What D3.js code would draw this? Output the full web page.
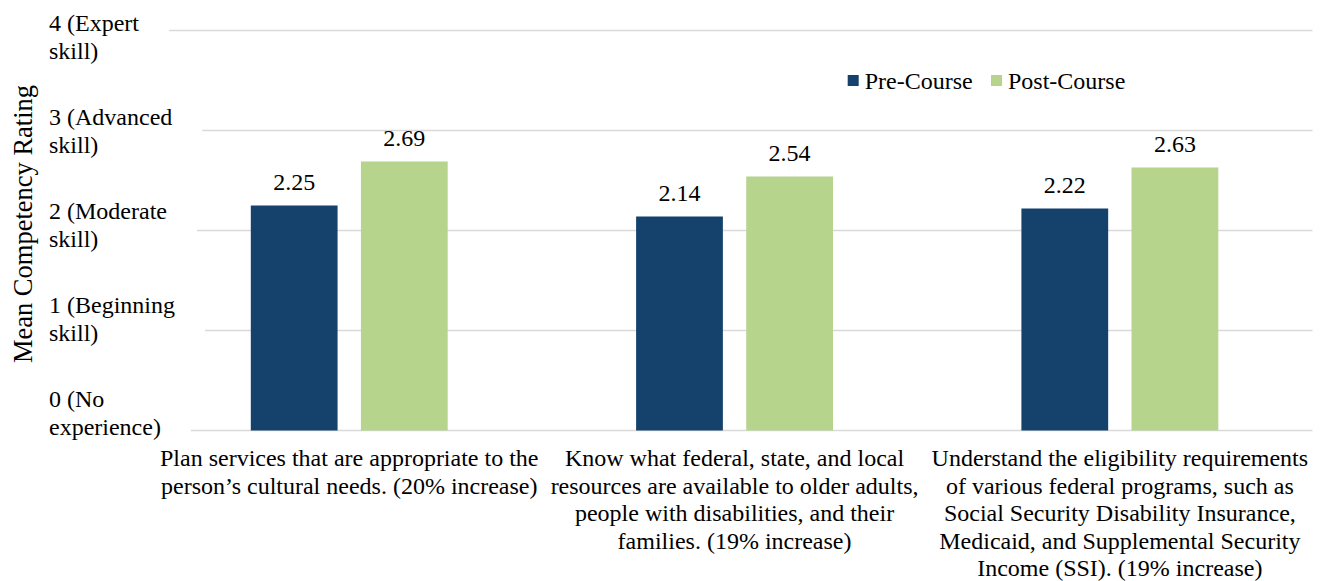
<!DOCTYPE html>
<html>
<head>
<meta charset="utf-8">
<script src="https://cdn.jsdelivr.net/npm/d3@7"></script>
<style>
  html, body { margin: 0; padding: 0; background: #fff; }
  svg { display: block; font-family: "Liberation Serif", "Times New Roman", serif; }
</style>
</head>
<body>
<svg id="chart" width="1321" height="581"></svg>
<script>
// ---- data ----
const categories = [
  "Plan services that are appropriate to the\nperson\u2019s cultural needs. (20% increase)",
  "Know what federal, state, and local\nresources are available to older adults,\npeople with disabilities, and their\nfamilies. (19% increase)",
  "Understand the eligibility requirements\nof various federal programs, such as\nSocial Security Disability Insurance,\nMedicaid, and Supplemental Security\nIncome (SSI). (19% increase)"
];
const seriesNames = ["Pre-Course", "Post-Course"];
const preCourse = [2.25, 2.14, 2.22];
const postCourse = [2.69, 2.54, 2.63];
const yTickValues = [0, 1, 2, 3, 4];
const yTickLabels = ["0 (No\nexperience)", "1 (Beginning\nskill)", "2 (Moderate\nskill)", "3 (Advanced\nskill)", "4 (Expert\nskill)"];
const yTitle = "Mean Competency Rating";

// ---- layout ----
const W = 1321, H = 581;
const plotLeft = 156.6, plotRight = 1312.5, plotTop = 30.5, plotBottom = 430.5;
const colors = { "Pre-Course": "#15426C", "Post-Course": "#B6D48C" };
const fontSize = 24;
const lineH = 27.6;

const svg = d3.select("#chart");

const table = categories.map((c, i) => ({ cat: c, values: [
  { key: seriesNames[0], value: preCourse[i] },
  { key: seriesNames[1], value: postCourse[i] }
]}));

const x0 = d3.scaleBand().domain(categories).range([plotLeft, plotRight])
  .paddingInner(0.489).paddingOuter(0.2445);
const x1 = d3.scaleBand().domain(seriesNames).range([0, x0.bandwidth()])
  .paddingInner(0.212).paddingOuter(0);
const y = d3.scaleLinear().domain([0, 4]).range([plotBottom, plotTop]);
// tick labels are spread on their own spacing (as in the original)
const yLab = d3.scaleLinear().domain([4, 0]).range([38, 414]);

// y tick labels
const tickG = svg.append("g").attr("class", "ytick-labels");
const labelGroups = tickG.selectAll("g").data(yTickValues).join("g");
labelGroups.each(function(v, i) {
  const lines = yTickLabels[i].split("\n");
  const g = d3.select(this);
  const c = yLab(v);
  const t = g.append("text").attr("font-size", fontSize).attr("fill", "#000");
  lines.forEach((ln, k) => {
    t.append("tspan").attr("x", 49)
      .attr("y", c - (lines.length - 1) * lineH / 2 + k * lineH + 7)
      .text(ln);
  });
});

// gridlines (start after their tick label, as in the original)
const gridG = svg.insert("g", ":first-child").attr("class", "grid");
labelGroups.each(function(v) {
  const bb = this.getBBox();
  const start = Math.max(plotLeft, bb.x + bb.width + 30);
  gridG.append("line")
    .attr("x1", start).attr("x2", plotRight)
    .attr("y1", y(v)).attr("y2", y(v))
    .attr("stroke", "#d9d9d9").attr("stroke-width", 1.5);
});

// bars
const groups = svg.append("g").selectAll("g").data(table).join("g")
  .attr("transform", d => `translate(${x0(d.cat)},0)`);
groups.selectAll("rect").data(d => d.values).join("rect")
  .attr("x", d => x1(d.key))
  .attr("y", d => y(d.value))
  .attr("width", x1.bandwidth())
  .attr("height", d => y(0) - y(d.value))
  .attr("fill", d => colors[d.key]);
groups.selectAll("text.val").data(d => d.values).join("text")
  .attr("class", "val")
  .attr("x", d => x1(d.key) + x1.bandwidth() / 2)
  .attr("y", d => y(d.value) - 15.7)
  .attr("text-anchor", "middle")
  .attr("font-size", fontSize)
  .attr("fill", "#000")
  .text(d => d.value.toFixed(2));

// category labels
const catG = svg.append("g").attr("class", "x-labels");
categories.forEach(c => {
  const t = catG.append("text")
    .attr("text-anchor", "middle")
    .attr("font-size", fontSize)
    .attr("fill", "#000");
  c.split("\n").forEach((ln, k) => {
    t.append("tspan")
      .attr("x", x0(c) + x0.bandwidth() / 2)
      .attr("y", 466 + k * lineH)
      .text(ln);
  });
});

// y axis title
svg.append("text")
  .attr("transform", `translate(31.5,224) rotate(-90)`)
  .attr("text-anchor", "middle")
  .attr("font-size", 26.5)
  .attr("fill", "#000")
  .text(yTitle);

// legend
const legendPos = [847.7, 991];
const leg = svg.append("g").selectAll("g").data(seriesNames).join("g")
  .attr("transform", (d, i) => `translate(${legendPos[i]},0)`);
leg.append("rect").attr("x", 0).attr("y", 75).attr("width", 11).attr("height", 11)
  .attr("fill", d => colors[d]);
leg.append("text").attr("x", 17).attr("y", 89)
  .attr("font-size", fontSize).attr("fill", "#000").text(d => d);
</script>
</body>
</html>
